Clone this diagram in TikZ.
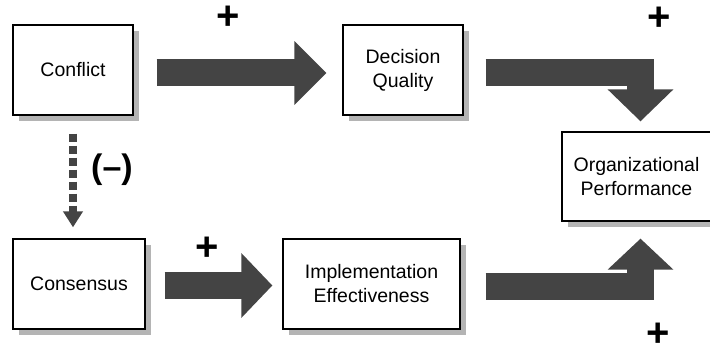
\documentclass[tikz,border=0pt]{standalone}
\usepackage{fontspec}
\setmainfont{Liberation Sans}
\usetikzlibrary{arrows.meta,shadows}
\definecolor{arrowgray}{RGB}{68,68,68}
\definecolor{shadowgray}{RGB}{180,180,180}
\begin{document}
\begin{tikzpicture}[x=1pt,y=1pt,
  box/.style={draw,line width=1.3pt,fill=white,minimum height=90pt,align=center,
    font=\fontsize{19.5}{24}\selectfont,
    general shadow={fill=shadowgray,shadow xshift=6pt,shadow yshift=-6pt}},
  fat/.style={draw=arrowgray,line width=27pt,line join=miter},
  sign/.style={inner sep=0pt,font=\fontsize{40}{40}\selectfont\bfseries}]
\useasboundingbox (0,0) rectangle (710,-350);

\node[box,minimum width=120pt] (conflict) at (73,-70) {Conflict};
\node[box,minimum width=120pt] (decision) [right of=conflict,node distance=330pt] {Decision\\Quality};
\node[box,minimum width=132pt] (consensus) [below of=conflict,node distance=214pt,xshift=6pt] {Consensus};
\node[box,minimum width=177pt] (impl) [right of=consensus,node distance=292.5pt] {Implementation\\Effectiveness};
\node[box,minimum width=149pt,minimum height=89pt] (org) [right of=decision,node distance=233.5pt,yshift=-106.5pt] {Organizational\\Performance};

\node[sign] (p1) at (228,-18) {+};
\node[sign] (p2) at (659,-19) {+};
\node[sign] (p3) at (207,-249) {+};
\node[sign] (p4) at (658,-335) {+};
\node[inner sep=0pt,font=\fontsize{34}{34}\selectfont\bfseries] (neg) at (112,-170) {(--)};

\draw[fat,-{Triangle[length=32pt,width=62pt]},shorten <=23pt,shorten >=16pt]
  ([yshift=-3pt]conflict.east) -- ([yshift=-3pt]decision.west);
\draw[fat,-{Triangle[length=32pt,width=64pt]},shorten <=22pt,shorten >=10pt]
  ([yshift=-2.5pt]decision.east) -| ([xshift=4pt]org.north);
\draw[fat,-{Triangle[length=31pt,width=63pt]},shorten <=19pt,shorten >=10pt]
  ([yshift=-1.5pt]consensus.east) -- ([yshift=-1.5pt]impl.west);
\draw[fat,-{Triangle[length=31pt,width=64pt]},shorten <=25pt,shorten >=17pt]
  ([yshift=-2.5pt]impl.east) -| ([xshift=4pt]org.south);

\draw[draw=arrowgray,line width=8pt,dash pattern=on 8pt off 4pt,
  -{Triangle[length=16pt,width=19pt]},shorten <=18pt,shorten >=11pt]
  (conflict.south) -- (conflict.south |- consensus.north);
\end{tikzpicture}
\end{document}
